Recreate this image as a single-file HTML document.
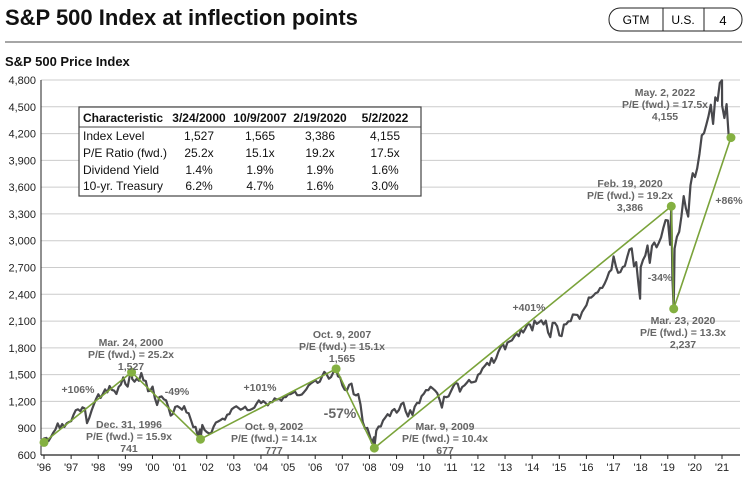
<!DOCTYPE html>
<html><head><meta charset="utf-8">
<style>
body{margin:0;background:#fff;width:745px;height:480px;overflow:hidden;font-family:"Liberation Sans Narrow","Liberation Sans",sans-serif;}
svg text{font-family:"Liberation Sans Narrow","Liberation Sans",sans-serif;}
</style></head>
<body>
<svg id="c" width="745" height="480" viewBox="0 0 745 480" xmlns="http://www.w3.org/2000/svg">
<text x="5" y="25" font-size="22" font-weight="bold" fill="#111" font-family="Liberation Sans,sans-serif">S&amp;P 500 Index at inflection points</text>
<g>
<rect x="609" y="8" width="133" height="23" rx="11" fill="none" stroke="#222" stroke-width="1"/>
<line x1="663" y1="8" x2="663" y2="31" stroke="#222"/><line x1="704" y1="8" x2="704" y2="31" stroke="#222"/>
<text x="636" y="24" font-size="12" text-anchor="middle">GTM</text>
<text x="683" y="24" font-size="12" text-anchor="middle">U.S.</text>
<text x="723" y="25" font-size="13" text-anchor="middle">4</text>
</g>
<line x1="5" y1="42" x2="742" y2="42" stroke="#888" stroke-width="1.5"/>
<text x="5" y="66" font-size="13" font-weight="bold" fill="#111" font-family="Liberation Sans,sans-serif">S&amp;P 500 Price Index</text>
<g id="grid"></g><g id="axes"></g><g id="series"></g><g id="infl"></g>
<g id="ann" font-size="10.5" font-weight="bold" fill="#666" text-anchor="middle"></g>
<g font-size="12" fill="#111">
<rect x="79" y="107" width="342" height="89" fill="#fff" stroke="#444" stroke-width="1.2"/>
<line x1="79" y1="127" x2="421" y2="127" stroke="#444"/>
<g font-weight="bold"><text x="83" y="122">Characteristic</text>
<text x="199" y="122" text-anchor="middle">3/24/2000</text><text x="260" y="122" text-anchor="middle">10/9/2007</text><text x="320" y="122" text-anchor="middle">2/19/2020</text><text x="385" y="122" text-anchor="middle">5/2/2022</text></g>
<text x="83" y="140">Index Level</text><text x="199" y="140" text-anchor="middle">1,527</text><text x="260" y="140" text-anchor="middle">1,565</text><text x="320" y="140" text-anchor="middle">3,386</text><text x="385" y="140" text-anchor="middle">4,155</text>
<text x="83" y="157">P/E Ratio (fwd.)</text><text x="199" y="157" text-anchor="middle">25.2x</text><text x="260" y="157" text-anchor="middle">15.1x</text><text x="320" y="157" text-anchor="middle">19.2x</text><text x="385" y="157" text-anchor="middle">17.5x</text>
<text x="83" y="174">Dividend Yield</text><text x="199" y="174" text-anchor="middle">1.4%</text><text x="260" y="174" text-anchor="middle">1.9%</text><text x="320" y="174" text-anchor="middle">1.9%</text><text x="385" y="174" text-anchor="middle">1.6%</text>
<text x="83" y="190">10-yr. Treasury</text><text x="199" y="190" text-anchor="middle">6.2%</text><text x="260" y="190" text-anchor="middle">4.7%</text><text x="320" y="190" text-anchor="middle">1.6%</text><text x="385" y="190" text-anchor="middle">3.0%</text>
</g>
</svg>
<script>
const yTicks=[600,900,1200,1500,1800,2100,2400,2700,3000,3300,3600,3900,4200,4500,4800];
const xLabels=["'96","'97","'98","'99","'00","'01","'02","'03","'04","'05","'06","'07","'08","'09","'10","'11","'12","'13","'14","'15","'16","'17","'18","'19","'20","'21"];
const seriesStart=1996.92;
const monthly=[741,
786,791,757,801,848,885,954,899,947,915,955,970,
980,1049,1101,1112,1091,1134,1121,957,1017,1098,1164,1229,
1280,1238,1286,1335,1302,1373,1329,1320,1283,1363,1389,1469,
1394,1366,1499,1452,1421,1455,1431,1518,1437,1429,1315,1320,
1366,1240,1160,1249,1256,1224,1211,1134,1041,1060,1139,1148,
1130,1107,1147,1077,1067,990,912,916,815,886,936,880,
856,841,848,917,964,975,990,1008,996,1051,1058,1112,
1131,1145,1126,1107,1121,1141,1102,1104,1115,1130,1174,1212,
1181,1204,1181,1157,1192,1191,1234,1220,1229,1207,1249,1248,
1280,1281,1295,1311,1270,1270,1277,1304,1336,1378,1401,1418,
1438,1407,1421,1482,1531,1503,1455,1474,1527,1549,1481,1468,
1378,1331,1323,1386,1400,1280,1267,1283,1166,969,896,903,
826,735,798,873,919,919,987,1021,1057,1036,1096,1115,
1074,1104,1169,1187,1089,1031,1102,1049,1141,1183,1181,1258,
1286,1327,1326,1364,1345,1321,1292,1219,1131,1253,1247,1258,
1312,1366,1408,1398,1310,1362,1379,1407,1441,1412,1416,1426,
1498,1515,1569,1598,1631,1606,1686,1633,1682,1757,1806,1848,
1783,1859,1872,1884,1924,1960,1931,2003,1972,2018,2068,2059,
1995,2105,2068,2086,2107,2063,2104,1972,1920,2079,2080,2044,
1940,1932,2060,2065,2097,2099,2174,2171,2168,2126,2199,2239,
2279,2364,2363,2384,2412,2423,2470,2472,2519,2575,2648,2674,
2824,2714,2641,2648,2705,2718,2816,2902,2914,2712,2760,2507,
2704,2784,2834,2946,2752,2942,2980,2926,2977,3038,3141,3231,
3226,2954,2585,2912,3044,3100,3271,3500,3363,3270,3622,3756,
3714,3811,3973,4181,4204,4298,4395,4523,4308,4605,4567,4766,
4516,4374,4530,4132];
const extraDates=[2000.23,2002.77,2007.77,2009.18,2018.98,2020.13,2020.22,2022.0,2022.33];
const extraValues=[1527,777,1565,677,2351,3386,2237,4797,4155];
const inflDates=[1997.0,2000.23,2002.77,2007.77,2009.18,2020.13,2020.22,2022.33];
const inflValues=[741,1527,777,1565,677,3386,2237,4155];

const NS="http://www.w3.org/2000/svg";
const X=t=>44+(t-1997)*27.12;
const Y=v=>455-(v-600)*375/4200;
function mk(tag,attrs,parent){const e=document.createElementNS(NS,tag);for(const k in attrs)e.setAttribute(k,attrs[k]);parent.appendChild(e);return e;}
const grid=document.getElementById('grid'),axes=document.getElementById('axes');
yTicks.forEach(v=>{
 if(v>600){const l=mk('line',{x1:41,x2:740,y1:Y(v),y2:Y(v),stroke:'#ccc','stroke-width':1},grid);
 
 }
 const t=mk('text',{x:36,y:Y(v)+4,'font-size':11,'text-anchor':'end',fill:'#222'},axes);t.textContent=v.toLocaleString('en-US');
 
 
});
const ax=mk('line',{x1:41,x2:41,y1:80,y2:455,stroke:'#222','stroke-width':1},axes);


const bx=mk('line',{x1:41,x2:740,y1:455,y2:455,stroke:'#222','stroke-width':1.2},axes);


xLabels.forEach((s,i)=>{const x=X(1997+i);
 mk('line',{x1:x,x2:x,y1:455,y2:459,stroke:'#222'},axes);
 const t=mk('text',{x:x,y:471,'font-size':11,'text-anchor':'middle',fill:'#222'},axes);t.textContent=s;
 
 
});
let pts=monthly.map((v,i)=>[seriesStart+i/12,v]);
extraDates.forEach((d,i)=>pts.push([d,extraValues[i]]));
pts.sort((a,b)=>a[0]-b[0]);
const sp=mk('polyline',{points:pts.map(p=>X(p[0]).toFixed(1)+','+Y(p[1]).toFixed(1)).join(' '),fill:'none',stroke:'#48484c','stroke-width':2.2,'stroke-linejoin':'round'},document.getElementById('series'));


const ig=document.getElementById('infl');
const il=mk('polyline',{points:inflDates.map((d,i)=>X(d).toFixed(1)+','+Y(inflValues[i]).toFixed(1)).join(' '),fill:'none',stroke:'#7aa33a','stroke-width':1.6},ig);


inflDates.forEach((d,i)=>{const c=mk('circle',{cx:X(d),cy:Y(inflValues[i]),r:4.5,fill:'#84b041'},ig);
 
 });
const ann=document.getElementById('ann');
function lab(x,y,lines,name,size){lines.forEach((s,i)=>{const t=mk('text',{x:x,y:y+i*12},ann);if(size)t.setAttribute('font-size',size);t.textContent=s;
 
 });}
lab(665,96,["May. 2, 2022","P/E (fwd.) = 17.5x","4,155"],'label-may-2022');
lab(630,187,["Feb. 19, 2020","P/E (fwd.) = 19.2x","3,386"],'label-feb-2020');
lab(683,324,["Mar. 23, 2020","P/E (fwd.) = 13.3x","2,237"],'label-mar-2020');
lab(131,346,["Mar. 24, 2000","P/E (fwd.) = 25.2x","1,527"],'label-mar-2000');
lab(129,428,["Dec. 31, 1996","P/E (fwd.) = 15.9x","741"],'label-dec-1996');
lab(342,338,["Oct. 9, 2007","P/E (fwd.) = 15.1x","1,565"],'label-oct-2007');
lab(274,430,["Oct. 9, 2002","P/E (fwd.) = 14.1x","777"],'label-oct-2002');
lab(445,430,["Mar. 9, 2009","P/E (fwd.) = 10.4x","677"],'label-mar-2009');
lab(78,393,["+106%"],'pct-106');
lab(177,395,["-49%"],'pct-49');
lab(260,391,["+101%"],'pct-101');
lab(340,418,["-57%"],'pct-57','14');
lab(529,311,["+401%"],'pct-401');
lab(660,281,["-34%"],'pct-34');
lab(729,204,["+86%"],'pct-86');
</script>
</body></html>
